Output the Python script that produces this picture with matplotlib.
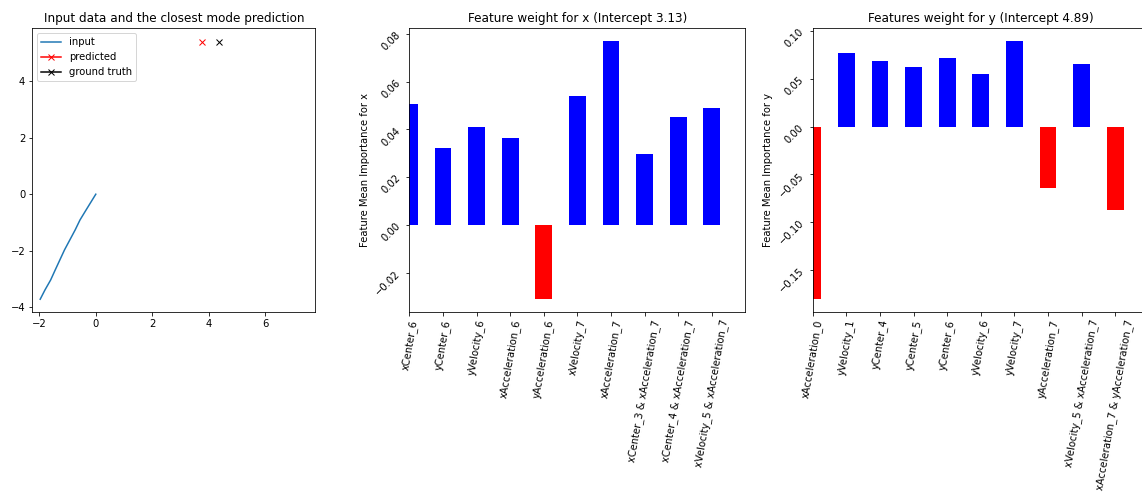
import numpy as np
import matplotlib
matplotlib.use("Agg")
from matplotlib import pyplot as plt

# ──────────────────────────────────────────────
# Data
# ──────────────────────────────────────────────
input_x = [-1.97, -1.80, -1.60, -1.44, -1.11, -0.73, -0.56, -0.34, 0.0]
input_y = [-3.71, -3.38, -3.03, -2.68, -1.97, -1.26, -0.91, -0.55, 0.0]
pred_x, pred_y = [3.78], [5.39]
truth_x, truth_y = [4.35], [5.39]

x_features = ["xCenter_6", "yCenter_6", "yVelocity_6", "xAcceleration_6",
              "yAcceleration_6", "xVelocity_7", "xAcceleration_7",
              "xCenter_3 & xAcceleration_7", "xCenter_4 & xAcceleration_7",
              "xVelocity_5 & xAcceleration_7"]
x_weights = [0.0508, 0.0320, 0.0412, 0.0363, -0.0309, 0.0541, 0.0769,
             0.0298, 0.0452, 0.0491]
x_intercept = 3.13

y_features = ["xAcceleration_0", "yVelocity_1", "yCenter_4", "yCenter_5",
              "yCenter_6", "yVelocity_6", "yVelocity_7", "yAcceleration_7",
              "xVelocity_5 & xAcceleration_7", "xAcceleration_7 & yAcceleration_7"]
y_weights = [-0.1801, 0.0767, 0.0683, 0.0620, 0.0714, 0.0551, 0.0895,
             -0.0645, 0.0652, -0.0868]
y_intercept = 4.89

W, H, DPI = 1142, 498, 72
fig = plt.figure(figsize=(W / DPI, H / DPI), dpi=DPI)

top, bottom = 28.3, 311.7
ax_h = (bottom - top) / H
ax_y = 1 - bottom / H


def _axes(left_px, width_px):
    return fig.add_axes([left_px / W, ax_y, width_px / W, ax_h])


# left: trajectory
ax0 = _axes(32.3, 283)
ax0.plot(input_x, input_y, label="input")
ax0.plot(pred_x, pred_y, "-x", color="red", label="predicted")
ax0.plot(truth_x, truth_y, "-x", color="black", label="ground truth")
ax0.set_xlim(-2.25, 7.78)
ax0.set_ylim(-4.15, 5.86)
ax0.set_title("Input data and the closest mode prediction")
ax0.legend(loc="upper left")


def plot_weights(ax, names, weights, title, ylabel):
    colors = ["blue" if w > 0 else "red" for w in weights]
    ax.bar(np.arange(len(weights)), weights, width=0.5, color=colors)
    ax.set_xticks(np.arange(len(names)))
    ax.set_xticklabels(names, rotation=80)
    ax.tick_params(axis="y", labelrotation=45)
    ax.set_xlim(0, len(names))
    ax.set_title(title)
    ax.set_ylabel(ylabel)


ax1 = _axes(409.3, 336)
plot_weights(ax1, x_features, x_weights,
             f"Feature weight for x (Intercept {x_intercept})",
             "Feature Mean Importance for x")

ax2 = _axes(812.7, 336)
plot_weights(ax2, y_features, y_weights,
             f"Features weight for y (Intercept {y_intercept})",
             "Feature Mean Importance for y")

fig.savefig("out.png", dpi=DPI)
